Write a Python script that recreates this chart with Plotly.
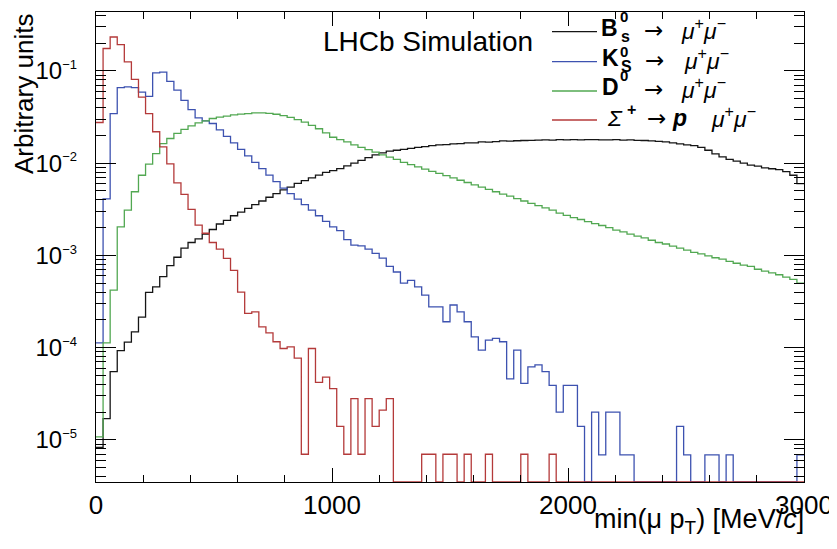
import math
import plotly.graph_objects as go

# ---------------- data ----------------
BIN_WIDTH = 30          # MeV/c
N_BINS = 100
bin_edges = [i * BIN_WIDTH for i in range(N_BINS + 1)]

bs_mumu = [8.3e-6, 1.7e-5, 5.5e-5, 9.3e-5, 1.15e-4, 1.48e-4, 2.14e-4, 3.98e-4, 4.57e-4, 5.89e-4,
           7.76e-4, 9.55e-4, 1.20e-3, 1.38e-3, 1.51e-3, 1.70e-3, 1.91e-3, 2.19e-3, 2.40e-3, 2.69e-3,
           2.95e-3, 3.24e-3, 3.55e-3, 3.89e-3, 4.27e-3, 4.68e-3, 5.13e-3, 5.50e-3, 6.03e-3, 6.46e-3,
           6.92e-3, 7.41e-3, 7.94e-3, 8.32e-3, 8.71e-3, 9.33e-3, 1.00e-2, 1.07e-2, 1.15e-2, 1.23e-2,
           1.29e-2, 1.35e-2, 1.38e-2, 1.41e-2, 1.45e-2, 1.48e-2, 1.51e-2, 1.55e-2, 1.58e-2, 1.59e-2,
           1.62e-2, 1.63e-2, 1.66e-2, 1.66e-2, 1.70e-2, 1.69e-2, 1.71e-2, 1.74e-2, 1.73e-2, 1.75e-2,
           1.76e-2, 1.77e-2, 1.78e-2, 1.79e-2, 1.78e-2, 1.80e-2, 1.79e-2, 1.80e-2, 1.79e-2, 1.80e-2,
           1.80e-2, 1.79e-2, 1.79e-2, 1.80e-2, 1.78e-2, 1.79e-2, 1.77e-2, 1.76e-2, 1.74e-2, 1.72e-2,
           1.70e-2, 1.66e-2, 1.62e-2, 1.58e-2, 1.55e-2, 1.48e-2, 1.38e-2, 1.26e-2, 1.17e-2, 1.10e-2,
           1.05e-2, 1.00e-2, 9.5e-3, 9.3e-3, 8.9e-3, 8.7e-3, 8.5e-3, 8.1e-3, 7.4e-3, 6.0e-3]

ks_mumu = [1.13e-4, 4.1e-3, 3.45e-2, 6.6e-2, 6.7e-2, 6.6e-2, 5.9e-2, 5.3e-2, 9.5e-2, 9.7e-2,
           7.7e-2, 6.2e-2, 4.8e-2, 3.8e-2, 3.1e-2, 2.88e-2, 2.69e-2, 2.29e-2, 1.95e-2, 1.66e-2,
           1.41e-2, 1.20e-2, 1.02e-2, 8.71e-3, 7.41e-3, 6.31e-3, 5.37e-3, 4.68e-3, 4.07e-3, 3.55e-3,
           3.09e-3, 2.69e-3, 2.34e-3, 2.04e-3, 1.86e-3, 1.48e-3, 1.29e-3, 1.27e-3, 1.17e-3, 1.05e-3,
           9.33e-4, 7.59e-4, 6.61e-4, 5.01e-4, 5.37e-4, 4.57e-4, 3.72e-4, 2.77e-4, 2.77e-4, 1.91e-4,
           2.90e-4, 2.45e-4, 1.91e-4, 1.31e-4, 9.4e-5, 1.21e-4, 1.26e-4, 1.16e-4, 4.6e-5, 9.4e-5,
           4.1e-5, 6.2e-5, 6.5e-5, 5.5e-5, 3.9e-5, 2.0e-5, 3.9e-5, 3.9e-5, 1.4e-5, 0,
           2.0e-5, 6.9e-6, 2.0e-5, 2.0e-5, 6.9e-6, 6.9e-6, 0, 0, 0, 0,
           0, 0, 1.4e-5, 6.9e-6, 0, 0, 6.9e-6, 6.9e-6, 0, 6.9e-6,
           0, 0, 0, 0, 0, 0, 0, 0, 0, 6.9e-6]

d0_mumu = [1.08e-5, 1.13e-4, 4.2e-4, 2.04e-3, 3.1e-3, 4.9e-3, 7.4e-3, 9.75e-3, 1.27e-2, 1.63e-2,
           1.85e-2, 2.1e-2, 2.32e-2, 2.54e-2, 2.74e-2, 2.87e-2, 3.05e-2, 3.16e-2, 3.24e-2, 3.33e-2,
           3.40e-2, 3.45e-2, 3.50e-2, 3.50e-2, 3.47e-2, 3.39e-2, 3.27e-2, 3.13e-2, 2.96e-2, 2.79e-2,
           2.57e-2, 2.36e-2, 2.13e-2, 1.91e-2, 1.80e-2, 1.70e-2, 1.58e-2, 1.48e-2, 1.40e-2, 1.32e-2,
           1.23e-2, 1.16e-2, 1.10e-2, 1.02e-2, 9.66e-3, 9.12e-3, 8.61e-3, 8.13e-3, 7.76e-3, 7.33e-3,
           6.92e-3, 6.53e-3, 6.17e-3, 5.82e-3, 5.50e-3, 5.19e-3, 4.90e-3, 4.62e-3, 4.40e-3, 4.12e-3,
           3.89e-3, 3.67e-3, 3.47e-3, 3.27e-3, 3.09e-3, 2.88e-3, 2.72e-3, 2.57e-3, 2.45e-3, 2.32e-3,
           2.21e-3, 2.11e-3, 2.00e-3, 1.88e-3, 1.80e-3, 1.70e-3, 1.62e-3, 1.55e-3, 1.46e-3, 1.38e-3,
           1.33e-3, 1.26e-3, 1.20e-3, 1.14e-3, 1.08e-3, 1.04e-3, 9.89e-4, 9.44e-4, 9.10e-4, 8.61e-4,
           8.22e-4, 7.85e-4, 7.60e-4, 7.08e-4, 6.76e-4, 6.46e-4, 6.17e-4, 5.82e-4, 5.50e-4, 5.01e-4]

sigma_pmumu = [2.76e-2, 0.175, 0.233, 0.193, 0.125, 8.1e-2, 5.2e-2, 3.45e-2, 2.19e-2, 1.50e-2,
               9.8e-3, 6.1e-3, 4.6e-3, 3.15e-3, 2.13e-3, 1.74e-3, 1.38e-3, 1.17e-3, 9.3e-4, 6.9e-4,
               4.0e-4, 2.35e-4, 2.45e-4, 1.68e-4, 1.45e-4, 1.16e-4, 9.8e-5, 1.02e-4, 7.7e-5, 7.0e-6,
               9.8e-5, 4.2e-5, 4.8e-5, 3.6e-5, 1.4e-5, 7.0e-6, 2.8e-5, 7.0e-6, 2.8e-5, 1.4e-5,
               2.1e-5, 2.8e-5, 0, 0, 0, 0, 7.0e-6, 7.0e-6, 0, 7.0e-6,
               7.0e-6, 0, 7.0e-6, 0, 0, 7.0e-6, 0, 0, 0, 0,
               7.0e-6, 0, 0, 0, 7.0e-6, 0, 0, 0, 0, 0,
               0, 0, 0, 0, 0, 0, 0, 0, 0, 0,
               0, 0, 0, 0, 0, 0, 0, 0, 0, 0,
               0, 0, 0, 0, 0, 0, 0, 0, 0, 0]

series_values = [bs_mumu, ks_mumu, d0_mumu, sigma_pmumu]
series_names = ["Bs0 -> mu+mu-", "KS0 -> mu+mu-", "D0 -> mu+mu-", "Sigma+ -> p mu+mu-"]
series_colors = ["#151515", "#3d52b0", "#52a852", "#b43a3a"]

x_tick_values = [0, 1000, 2000, 3000]
y_tick_values = [1e-5, 1e-4, 1e-3, 1e-2, 1e-1]
y_tick_exponents = ["−5", "−4", "−3", "−2", "−1"]
y_range = [3.5e-6, 0.435]

# ---------------- geometry (screen pixels of the photographed page) ----------------
W, H = 837, 549
PAGE_OFFSET = 8                 # default body margin of the html page
PL, PR, PT, PB = 96, 804, 12, 482   # plot frame in screen pixels


def px(x):
    return (x - PL) / (PR - PL)


def py(y):
    return (PB - y) / (PB - PT)


FONT = "Liberation Sans, Arial, Helvetica, sans-serif"
ARROW_FONT = "DejaVu Sans, Liberation Sans, sans-serif"

fig = go.Figure()
for vals, name, color in zip(series_values, series_names, series_colors):
    yv = [v if v > 0 else y_range[0] for v in vals]
    yv = yv + [yv[-1]]
    fig.add_trace(go.Scatter(
        x=bin_edges, y=yv, mode="lines", name=name,
        line=dict(color=color, width=1.3, shape="hv"),
        showlegend=False, hoverinfo="skip"))

minor_y = [m * 10.0 ** e for e in range(-6, 0) for m in range(2, 10)]
y_tick_text = ['10<sup><span style="font-size:13px">%s</span></sup>' % e for e in y_tick_exponents]

fig.update_layout(
    width=W, height=H,
    margin=dict(l=PL - PAGE_OFFSET, r=W - (PR - PAGE_OFFSET),
                t=PT - PAGE_OFFSET, b=H - (PB - PAGE_OFFSET), pad=0, autoexpand=False),
    paper_bgcolor="white", plot_bgcolor="white",
    font=dict(family=FONT, size=26, color="black"),
    showlegend=False,
)
fig.update_xaxes(
    range=[0, 3000], tickvals=x_tick_values, ticks="inside", ticklen=14,
    tickwidth=1.2, tickcolor="black", showline=True, linecolor="black",
    linewidth=1.3, mirror="ticks", showgrid=False, zeroline=False,
    tickfont=dict(size=26, family=FONT), ticklabelstandoff=0,
    minor=dict(dtick=200, ticks="inside", ticklen=7, tickwidth=1.2,
               tickcolor="black", showgrid=False),
)
fig.update_yaxes(
    type="log", range=[math.log10(y_range[0]), math.log10(y_range[1])],
    tickvals=y_tick_values, ticktext=y_tick_text, ticks="inside", ticklen=20,
    tickwidth=1.2, tickcolor="black", showline=True, linecolor="black",
    linewidth=1.3, mirror="ticks", showgrid=False, zeroline=False,
    tickfont=dict(size=24, family=FONT), ticklabelstandoff=13,
    minor=dict(tickvals=minor_y, ticks="inside", ticklen=10, tickwidth=1.2,
               tickcolor="black", showgrid=False),
)

ann = []


def add_text(text, x, y, size, xanchor="left", yanchor="middle", angle=0, family=FONT):
    ann.append(dict(text=text, x=px(x), y=py(y), xref="paper", yref="paper",
                    xanchor=xanchor, yanchor=yanchor, showarrow=False,
                    textangle=angle, font=dict(family=family, size=size, color="black")))


add_text("LHCb Simulation", 321, 42, 28)
add_text("Arbitrary units", 24, 94, 26, xanchor="center", angle=-90)
add_text("min(μ p<sub>T</sub>) [MeV/<i>c</i>]", 806, 521, 27, xanchor="right")

# legend (ROOT style) : line keys + stacked labels
legend_line_y = [31.7, 61.7, 91.0, 120.0]
mumu = "<i>μ</i><sup>+</sup><i>μ</i><sup>−</sup>"
legend_labels = [
    [("<b>B</b>", 599, -3.5, 23, FONT), ("<b>0</b>", 618, -15, 15, FONT),
     ("<b>s</b>", 619, 5, 16, FONT), ("→", 642, -2, 23, ARROW_FONT), (mumu, 679, -3, 23, FONT)],
    [("<b>K</b>", 600, -3.5, 23, FONT), ("<b>0</b>", 618, -10, 15, FONT),
     ("<b>S</b>", 619, 5, 16, FONT), ("→", 643, -2, 23, ARROW_FONT), (mumu, 682, -3, 23, FONT)],
    [("<b>D</b>", 600, -3.5, 23, FONT), ("<b>0</b>", 618, -15, 15, FONT),
     ("→", 642, -2, 23, ARROW_FONT), (mumu, 679, -3, 23, FONT)],
    [("<i>Σ</i>", 605, -2, 23, FONT), ("<b>+</b>", 625, -10, 16, FONT),
     ("→", 645, -2, 23, ARROW_FONT), ("<b><i>p</i></b>", 670, -2, 23, FONT),
     (mumu, 709, -3, 23, FONT)],
]
shapes = []
for ly, color, parts in zip(legend_line_y, series_colors, legend_labels):
    shapes.append(dict(type="line", xref="paper", yref="paper",
                       x0=px(552), x1=px(597), y0=py(ly), y1=py(ly),
                       line=dict(color=color, width=1.3)))
    for text, x, dy, size, fam in parts:
        add_text(text, x, ly + dy, size, family=fam)

fig.update_layout(annotations=ann, shapes=shapes)
fig.write_html("out.html")
